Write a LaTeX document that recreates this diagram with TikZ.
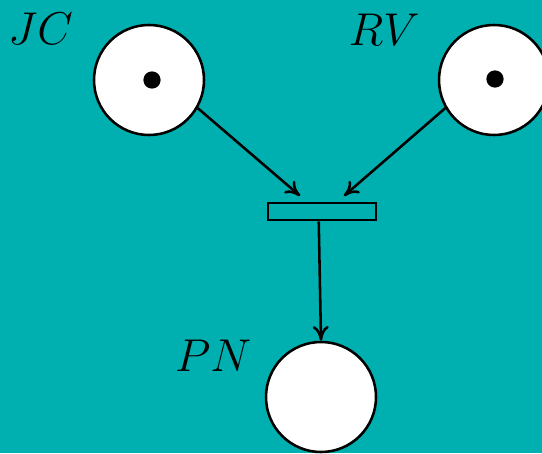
\documentclass[tikz,border=0pt]{standalone}
\usepackage{tikz}
\usetikzlibrary{positioning, arrows.meta}
\definecolor{petriteal}{RGB}{0,176,176}

\tikzset{
    place/.style={circle, draw=black, thick, fill=white, minimum size=1.21cm, inner sep=0pt},
    token/.style={circle, fill=black, minimum size=0.19cm, inner sep=0pt},
    transition/.style={rectangle, draw=black, thick, minimum width=1.19cm, minimum height=0.19cm, inner sep=0pt},
    arc/.style={-{To[length=4.6pt, width=5pt]}, thick},
    placelabel/.style={font=\Large}
}

\begin{document}
\begin{tikzpicture}
    % Background
    \fill[petriteal] (0, 0) rectangle (5.962, 4.983);
    \useasboundingbox (0, 0) rectangle (5.962, 4.983);

    % Places
    \node[place] (jc) at (1.639, 4.103) {};
    \node[place] (rv) at (5.434, 4.103) {};
    \node[place] (pn) at (3.531, 0.616) {};

    % Tokens
    \node[token] (jctok) at (1.672, 4.103) {};
    \node[token] (rvtok) at (5.445, 4.114) {};

    % Labels
    \node[placelabel] (jclab) at (0.446, 4.664) {$JC$};
    \node[placelabel] (rvlab) at (4.225, 4.653) {$RV$};
    \node[placelabel] (pnlab) at (2.345, 1.067) {$PN$};

    % Transition
    \node[transition] (t) at (3.542, 2.657) {};

    % Arcs
    \draw[arc] (jc.-30) -- ([shift={(-0.242cm, 0.062cm)}]t.north);
    \draw[arc] (rv.210) -- ([shift={(0.242cm, 0.062cm)}]t.north);
    \draw[arc] ([xshift=-0.036cm]t.south) -- (pn.north);
\end{tikzpicture}
\end{document}
